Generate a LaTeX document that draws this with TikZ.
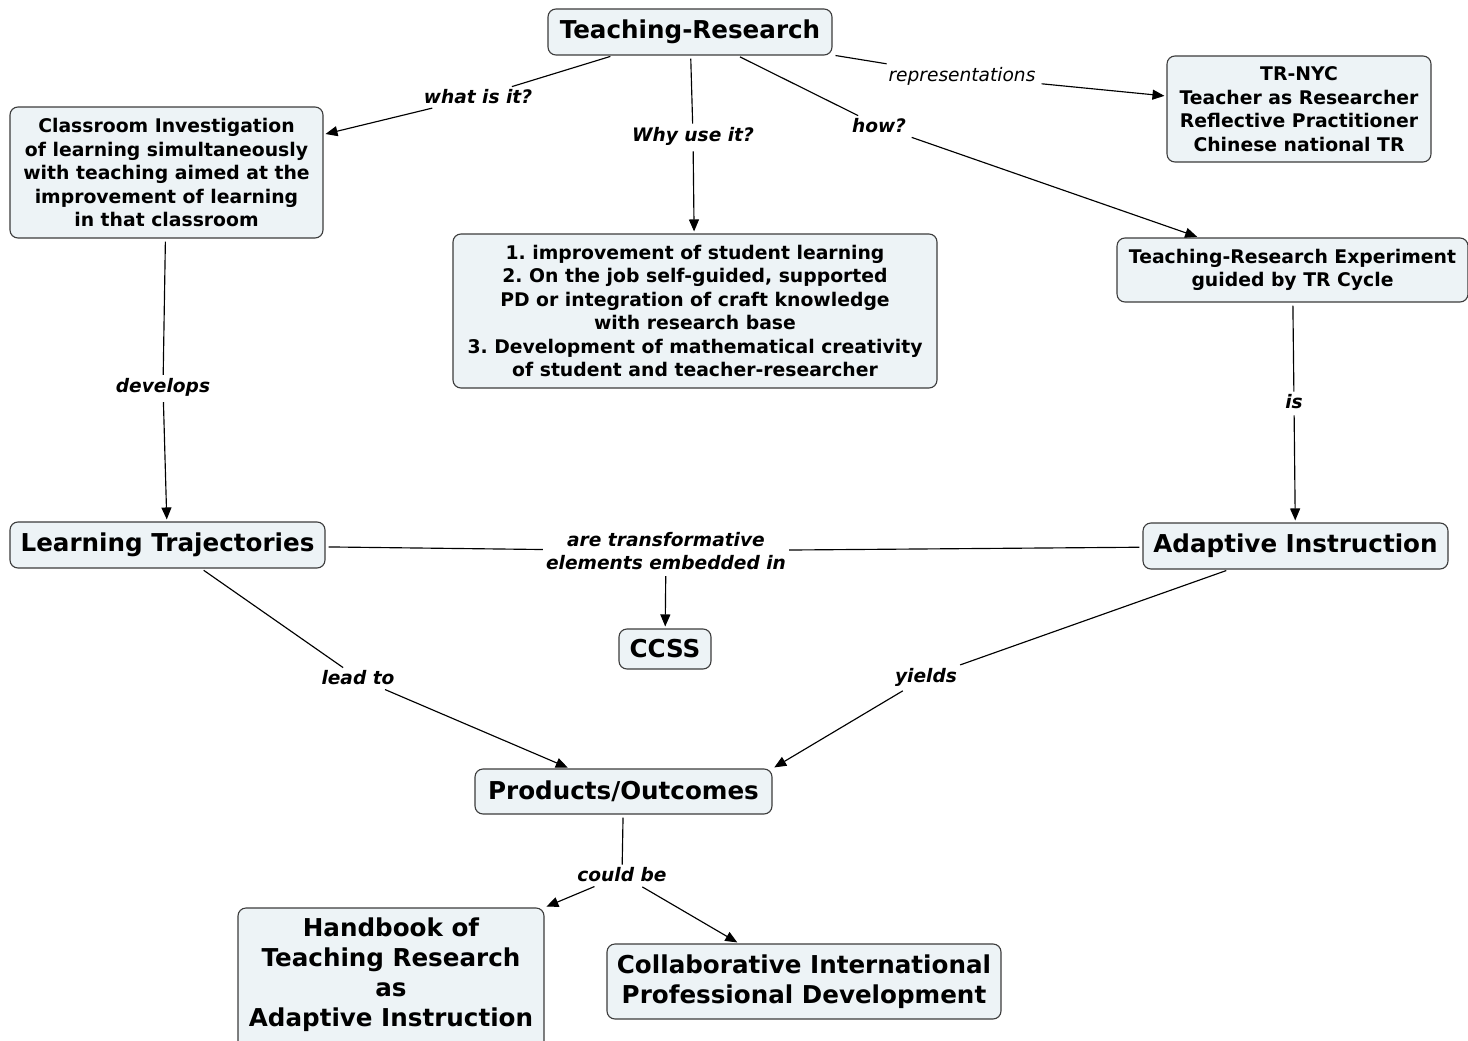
\documentclass[tikz,border=0pt]{standalone}
\usepackage{fontspec}
\setmainfont{DejaVu Sans}
\usetikzlibrary{arrows.meta}
\definecolor{boxfill}{RGB}{237,243,246}
\definecolor{bordercol}{RGB}{60,60,60}
\tikzset{
  cbox/.style={draw=bordercol, fill=boxfill, rounded corners=8pt, line width=1.1pt, align=center, inner sep=2pt, font=\bfseries\fontsize{18.8}{23.5}\selectfont},
  bigbox/.style={cbox, font=\bfseries\fontsize{24.6}{30}\selectfont},
  bigtext/.style={align=center, inner sep=0pt, font=\bfseries\fontsize{24.6}{30}\selectfont},
  lab/.style={font=\bfseries\itshape\fontsize{18.6}{23.5}\selectfont, align=center, inner sep=3pt},
  labreg/.style={font=\itshape\fontsize{18.6}{23.5}\selectfont, align=center, inner sep=3pt},
  conn/.style={line width=1.15pt, black, shorten <=3pt},
  arr/.style={conn, -{Triangle[length=12pt,width=10pt]}, shorten >=2pt},
}
\begin{document}
\frenchspacing
\begin{tikzpicture}[x=1pt,y=-1pt]
\useasboundingbox (0,0) rectangle (1468,1041);
% boxes
\node[bigbox, minimum width=284pt, minimum height=46pt] (tr) at (690,32) {Teaching-Research};
\node[cbox, minimum width=313pt, minimum height=131pt] (ci) at (166.5,172.5) {Classroom Investigation\\of learning simultaneously\\with teaching aimed at the\\improvement of learning\\in that classroom};
\node[cbox, minimum width=484pt, minimum height=154pt] (why) at (695,311) {1. improvement of student learning\\2. On the job self-guided, supported\\PD or integration of craft knowledge\\with research base\\3. Development of mathematical creativity\\of student and teacher-researcher};
\node[cbox, minimum width=264pt, minimum height=106pt] (nyc) at (1299,109) {TR-NYC\\Teacher as Researcher\\Reflective Practitioner\\Chinese national TR};
\node[cbox, minimum width=351pt, minimum height=64pt] (tre) at (1292.5,270) {Teaching-Research Experiment\\guided by TR Cycle};
\node[bigbox, minimum width=315pt, minimum height=46pt] (lt) at (167.5,545) {Learning Trajectories};
\node[bigbox, minimum width=305pt, minimum height=46pt] (ai) at (1295.5,546) {Adaptive Instruction};
\node[bigbox, minimum width=92pt, minimum height=40pt] (ccss) at (665,649) {CCSS};
\node[bigbox, minimum width=297pt, minimum height=45pt] (po) at (623.5,791.5) {Products/Outcomes};
\node[bigbox, minimum width=306pt, minimum height=150pt] (hb) at (391,983) {};
\node[bigtext] (hbt) at (391,975) {Handbook of\\Teaching Research\\as\\Adaptive Instruction};
\node[bigbox, minimum width=394pt, minimum height=75pt] (cipd) at (804,981.5) {Collaborative International\\Professional Development};
% labels
\node[lab] (what) at (478,97) {what is it?};
\node[lab] (whyl) at (693,136) {Why use it?};
\node[lab] (how) at (879,126) {how?};
\node[labreg] (rep) at (962,76) {representations};
\node[lab] (dev) at (163,387) {develops};
\node[lab] (is) at (1294,402) {is};
\node[lab] (atr) at (666,551) {are transformative\\elements embedded in};
\node[lab] (lead) at (358,678) {lead to};
\node[lab] (yld) at (926,677) {yields};
\node[lab] (could) at (622,875) {could be};
% connectors
\draw[conn] (tr) -- (what);
\draw[arr] (what) -- (ci);
\draw[conn] (tr) -- (whyl);
\draw[arr] (whyl) -- (why);
\draw[conn] (tr) -- (how);
\draw[arr] (how) -- (tre);
\draw[conn] (tr) -- (rep);
\draw[arr] (rep) -- (nyc);
\draw[conn] (ci) -- (dev);
\draw[arr] (dev) -- (lt);
\draw[conn] (tre) -- (is);
\draw[arr] (is) -- (ai);
\draw[conn] (lt) -- (atr);
\draw[conn] (ai) -- (atr);
\draw[arr] (atr) -- (ccss);
\draw[conn] (lt) -- (lead);
\draw[arr] (lead) -- (po);
\draw[conn] (ai) -- (yld);
\draw[arr] (yld) -- (po.north east);
\draw[conn] (po) -- (could);
\draw[arr] (could) -- (hb.north east);
\draw[arr] (could) -- (cipd);
\end{tikzpicture}
\end{document}
